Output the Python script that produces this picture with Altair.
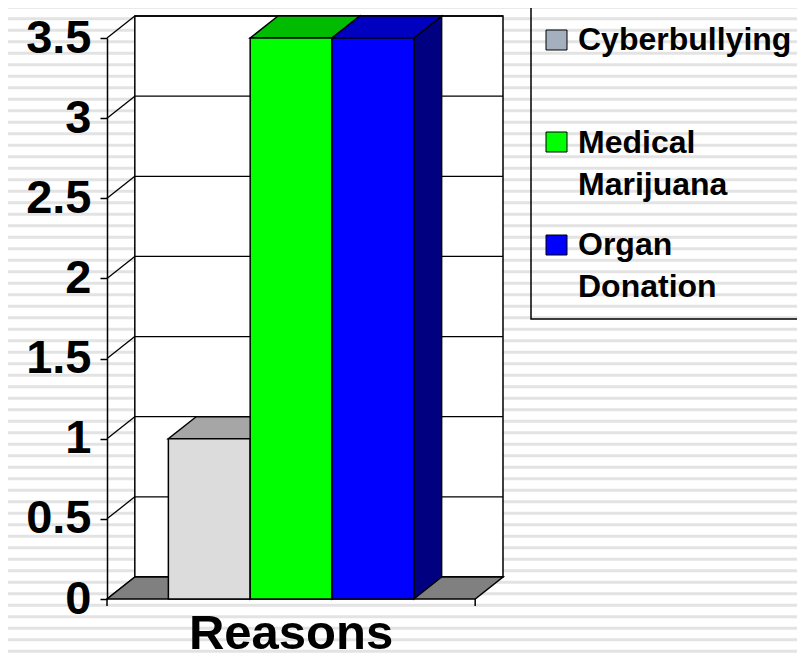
import altair as alt
import pandas as pd

# ---------------- data ----------------
categories = ["Cyberbullying", "Medical Marijuana", "Organ Donation"]
values = [1.0, 3.5, 3.5]
legend_labels = ["Cyberbullying", "Medical\nMarijuana", "Organ\nDonation"]
front_colors = ["#dcdcdc", "#00ff00", "#0000ff"]
top_colors = ["#a6a6a6", "#00bb00", "#0000c0"]
side_colors = ["#8c8c8c", "#008000", "#000080"]
legend_colors = ["#a5b0bf", "#00ff00", "#0000ff"]
y_ticks = [0, 0.5, 1, 1.5, 2, 2.5, 3, 3.5]
x_title = "Reasons"

# ---------------- layout ----------------
GAP = 0.75            # gap before/after the bar group (bar widths)
DX = 0.34             # 3-D depth, x (bar widths)
YMAX = 3.5
W, H = 396, 561
DY = 22 / H * YMAX    # 3-D depth, y (value units)
FLOOR = 2 * GAP + len(categories)
PAD_L, PAD_T = 99, 30
TOTAL_W, TOTAL_H = 789, 652
FONT = "Liberation Sans"

xs = alt.Scale(domain=[0, FLOOR + DX], nice=False, zero=False)
ys = alt.Scale(domain=[0, YMAX], nice=False, zero=False)

YAXIS = alt.Axis(
    values=y_ticks, title=None, grid=False, format="~g", zindex=2,
    labelFont=FONT, labelFontSize=47, labelFontWeight="bold", labelColor="black",
    labelPadding=9, tickSize=7, tickColor="black", tickWidth=1.5,
    domainColor="black", domainWidth=1.5, labelOverlap=False, labelFlush=False,
)


def Y(field, **kw):
    return alt.Y(field, scale=ys, axis=YAXIS, title=None, **kw)


def X(field, **kw):
    return alt.X(field, scale=xs, axis=None, title=None, **kw)


# background stripes (decorative texture)
stripe_px = [7.3 + 11.5 * k - (8 + PAD_T) for k in range(57)]
stripes = alt.Chart(pd.DataFrame({"py": stripe_px})).mark_rule(
    color="#e3e3e3", strokeWidth=3
).encode(
    y=alt.Y("py:Q", scale=None),
    x=alt.value(-PAD_L),
    x2=alt.value(TOTAL_W - PAD_L),
)

# back wall
wall_df = pd.DataFrame({"x": [DX], "x2": [FLOOR + DX], "y": [DY], "y2": [YMAX + DY]})
wall = alt.Chart(wall_df).mark_rect(fill="white", stroke="black", strokeWidth=1.5).encode(
    x=X("x:Q"), x2="x2:Q", y=Y("y:Q"), y2="y2:Q",
)

# gridlines on back wall
grid_df = pd.DataFrame({"t": y_ticks})
grid_df["yy"] = grid_df["t"] + DY
grid_df["xa"] = DX
grid_df["xb"] = FLOOR + DX
grid = alt.Chart(grid_df).mark_rule(color="black", strokeWidth=1.3).encode(
    x=X("xa:Q"), x2="xb:Q", y=Y("yy:Q"),
)

# left side wall diagonals
diag_df = pd.DataFrame({"t": y_ticks})
diag_df["t2"] = diag_df["t"] + DY
diag_df["xa"] = 0.0
diag_df["xb"] = DX
diag = alt.Chart(diag_df).mark_rule(color="black", strokeWidth=1.3).encode(
    x=X("xa:Q"), x2="xb:Q", y=Y("t:Q"), y2="t2:Q",
)

# floor
floor_df = pd.DataFrame({"yy": [0.0, DY], "xa": [0.0, DX], "xb": [FLOOR, FLOOR + DX], "k": ["f", "f"]})
floor = alt.Chart(floor_df).mark_area(
    orient="horizontal", fill="#808080", stroke="black", strokeWidth=1.5
).encode(
    y=Y("yy:Q"), x=X("xa:Q", stack=None), x2="xb:Q", detail="k:N",
)

# bottom ticks
btick_df = pd.DataFrame({"x": [0.0, FLOOR]})
bticks = alt.Chart(btick_df).mark_rule(color="black", strokeWidth=1.5).encode(
    x=X("x:Q"), y=alt.value(H), y2=alt.value(H + 7),
)

# bar geometry from data
rows_front, rows_top, rows_side = [], [], []
for i, (c, v) in enumerate(zip(categories, values)):
    x0 = GAP + i
    x1 = x0 + 1
    rows_front.append({"cat": c, "x0": x0, "x1": x1, "y0": 0.0, "v": v, "col": front_colors[i]})
    rows_top.append({"cat": c, "yy": v, "xa": x0, "xb": x1, "col": top_colors[i]})
    rows_top.append({"cat": c, "yy": v + DY, "xa": x0 + DX, "xb": x1 + DX, "col": top_colors[i]})
    rows_side.append({"cat": c, "xx": x1, "ya": 0.0, "yb": v, "col": side_colors[i]})
    rows_side.append({"cat": c, "xx": x1 + DX, "ya": DY, "yb": v + DY, "col": side_colors[i]})

sides = alt.Chart(pd.DataFrame(rows_side)).mark_area(
    orient="vertical", stroke="black", strokeWidth=1.5
).encode(
    x=X("xx:Q"), y=Y("yb:Q", stack=None), y2="ya:Q",
    fill=alt.Fill("col:N", scale=None), detail="cat:N",
)

tops = alt.Chart(pd.DataFrame(rows_top)).mark_area(
    orient="horizontal", stroke="black", strokeWidth=1.5
).encode(
    y=Y("yy:Q"), x=X("xa:Q", stack=None), x2="xb:Q",
    fill=alt.Fill("col:N", scale=None), detail="cat:N",
)

fronts = alt.Chart(pd.DataFrame(rows_front)).mark_rect(
    stroke="black", strokeWidth=1.5
).encode(
    x=X("x0:Q"), x2="x1:Q", y=Y("y0:Q"), y2="v:Q",
    fill=alt.Fill("col:N", scale=None),
)

# x title
title_df = pd.DataFrame({"x": [FLOOR / 2], "t": [x_title]})
xtitle = alt.Chart(title_df).mark_text(
    font=FONT, fontSize=49, fontWeight="bold", color="black", baseline="bottom", align="center"
).encode(
    x=X("x:Q"), y=alt.value(TOTAL_H - PAD_T - 1), text="t:N",
)

# legend (drawn manually)
LEG_BOX = (424, 710, -31, 281)
LEG_SW_X = (439, 460)
LEG_SW_Y = [-8, 94, 197]
LEG_TX_X = 471
LEG_TX_Y = [12, 115, 217]

legend_layers = [
    alt.Chart(pd.DataFrame({"a": [0]})).mark_rect(
        fill="white", fillOpacity=0, stroke="black", strokeWidth=1.5
    ).encode(
        x=alt.value(LEG_BOX[0]), x2=alt.value(LEG_BOX[1]),
        y=alt.value(LEG_BOX[2]), y2=alt.value(LEG_BOX[3]),
    )
]
for i, lab in enumerate(legend_labels):
    d = pd.DataFrame({"label": [lab], "col": [legend_colors[i]]})
    legend_layers.append(
        alt.Chart(d).mark_rect(stroke="black", strokeWidth=1).encode(
            x=alt.value(LEG_SW_X[0]), x2=alt.value(LEG_SW_X[1]),
            y=alt.value(LEG_SW_Y[i]), y2=alt.value(LEG_SW_Y[i] + 20),
            fill=alt.Fill("col:N", scale=None),
        )
    )
    legend_layers.append(
        alt.Chart(d).mark_text(
            font=FONT, fontSize=32, fontWeight="bold", color="black",
            align="left", baseline="alphabetic", lineBreak="\n", lineHeight=42,
        ).encode(
            x=alt.value(LEG_TX_X), y=alt.value(LEG_TX_Y[i]), text="label:N",
        )
    )

chart = alt.layer(
    stripes, wall, grid, diag, floor, bticks, sides, tops, fronts, xtitle, *legend_layers
).properties(
    width=W, height=H,
    padding={"left": PAD_L, "top": PAD_T, "right": TOTAL_W - PAD_L - W, "bottom": TOTAL_H - PAD_T - H},
    autosize=alt.AutoSizeParams(type="none"),
    background="white",
).configure_view(strokeWidth=0)

chart.save("out.html", embed_options={"renderer": "svg", "actions": False})
